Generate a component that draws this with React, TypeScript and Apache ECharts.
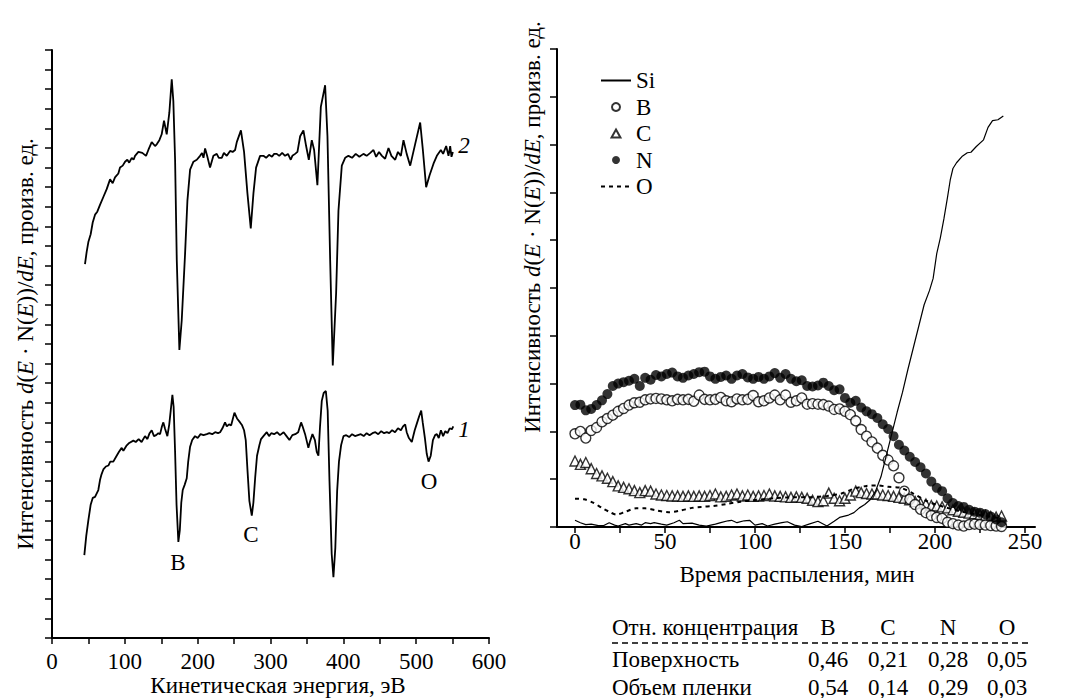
import React, { useEffect, useRef } from "react";
import * as echarts from "echarts";

const FONT = "Liberation Serif";
const FS = 23;

// ---- Left panel: Auger spectra (kinetic energy, eV) ----
const energy2 = [45.3, 47.6, 49.9, 53.1, 55.9, 59.1, 62.2, 65.9, 70.5, 75.1, 79.7, 83.3, 86.5, 91.1, 93.4, 97.1, 100.3, 103.4, 106, 109.5, 112, 114, 118.6, 124, 129.1, 132.3, 136.9, 141.5, 144, 147.4, 150.6, 153.8, 157.5, 161.1, 164.4, 166.6, 169, 171.3, 174.9, 178.1, 182.7, 185.9, 189.6, 194.2, 198.8, 203.3, 206, 208, 210.2, 213, 217, 221.6, 226.2, 229, 233.1, 236, 240, 244.5, 248, 251.4, 253.7, 259.4, 263.7, 268.3, 272.9, 276.6, 280.2, 285.7, 290.3, 294, 298, 302, 305, 308.6, 312, 316, 320, 324, 327.8, 330, 333.8, 337, 340.7, 345.2, 348.9, 352.6, 356.7, 359.9, 364.4, 369.1, 375, 378.2, 381.9, 385.5, 390.1, 393.3, 397.9, 402.5, 407, 412, 417, 422, 427.6, 432, 437, 441.4, 445, 449, 453, 457.4, 462, 466, 471.2, 475, 479, 482.6, 487, 491.8, 498.6, 505.5, 509.2, 513.7, 518.3, 523.8, 528.4, 533.9, 537, 541.2, 544.4, 546.7, 548.5, 550.4];
const spectrum2 = [19.08, 19.7, 20.2, 20.6, 21.2, 21.6, 21.75, 22.1, 22.5, 22.9, 23.4, 23.2, 23.5, 23.7, 24.0, 24.1, 24.3, 24.4, 24.25, 24.5, 24.4, 24.6, 24.8, 24.75, 24.6, 24.9, 25.3, 25.1, 25.2, 25.4, 25.7, 26.4, 25.7, 26.8, 28.5, 27.4, 24.4, 19.3, 14.7, 16.2, 19.6, 22.3, 23.9, 24.3, 24.4, 24.6, 24.75, 24.5, 24.98, 24.6, 24.0, 24.6, 24.7, 24.5, 24.5, 24.75, 24.6, 24.85, 24.8, 24.9, 25.3, 25.9, 24.8, 22.7, 20.9, 22.7, 24.0, 24.6, 24.6, 24.5, 24.65, 24.55, 24.7, 24.7, 24.6, 24.75, 24.6, 24.7, 24.4, 24.6, 24.7, 24.8, 25.6, 25.9, 25.1, 24.4, 25.4, 24.9, 23.1, 27.1, 28.2, 25.6, 19.3, 13.9, 17.6, 21.8, 24.1, 24.5, 24.6, 24.5, 24.7, 24.55, 24.7, 24.6, 24.75, 24.9, 24.55, 24.8, 24.6, 24.45, 25.0, 24.6, 24.4, 24.8, 24.6, 25.4, 24.7, 24.1, 25.2, 26.3, 24.9, 23.0, 23.6, 24.2, 24.6, 24.9, 24.7, 25.1, 24.6, 25.1, 24.55, 24.8];

const energy1 = [44.4, 47, 49.9, 53.1, 56, 59.1, 63.6, 65.9, 68, 70.5, 74, 77.4, 80, 84.2, 88, 92, 95.7, 98, 102, 106, 111.7, 115, 119, 123, 127.7, 131, 134, 136.9, 140, 143, 146, 148.4, 151, 152.9, 155, 158.4, 161, 163, 165.3, 167, 169, 171, 173.5, 175.5, 177.5, 179.5, 182, 185, 187, 189.6, 192.5, 196.4, 200, 204, 208, 212.5, 216, 220, 224, 228, 230.8, 234, 237.6, 240, 243, 246, 250.5, 254, 258.2, 261, 263.7, 266, 268.5, 271, 274.3, 276.5, 279, 281.5, 284.8, 287, 290.3, 294.9, 298, 301, 305, 309, 313, 318, 322, 326, 330, 334, 338, 342, 344, 347.5, 352, 354, 357.6, 361, 363.5, 365.8, 368, 370.4, 373, 376, 378.5, 381, 384, 386.4, 389, 391.5, 394, 397, 400.2, 404, 408, 412, 416, 420, 424, 428, 432, 436, 440, 444, 448, 452, 456, 459.7, 463, 467, 471, 475, 479, 482, 484.9, 487, 490, 494, 498, 501, 504, 506.9, 509, 512, 514.5, 517, 520, 523, 526, 528.4, 531, 534, 537, 540, 543, 546, 549, 551];
const spectrum1 = [4.23, 5.2, 6.0, 6.8, 7.15, 7.2, 7.55, 8.06, 8.35, 8.6, 8.75, 8.8, 9.0, 9.0, 9.25, 9.5, 9.7, 9.55, 9.8, 9.95, 10.07, 10.0, 10.15, 10.0, 10.3, 10.15, 10.45, 10.6, 10.3, 10.35, 10.45, 10.4, 10.8, 11.0, 10.7, 10.3, 10.9, 11.6, 12.4, 11.8, 9.5, 6.8, 4.9, 5.5, 6.9, 7.55, 7.8, 8.15, 9.0, 9.76, 10.1, 10.3, 10.2, 10.4, 10.35, 10.4, 10.45, 10.4, 10.5, 10.45, 10.5, 10.7, 11.0, 10.8, 10.9, 10.85, 11.5, 11.2, 11.0, 10.85, 10.6, 10.1, 8.5, 7.0, 6.24, 6.9, 8.2, 9.3, 9.85, 10.15, 10.3, 10.5, 10.3, 10.45, 10.4, 10.5, 10.35, 10.5, 10.3, 10.1, 10.35, 10.4, 10.5, 11.0, 10.8, 10.4, 9.7, 10.0, 10.4, 10.1, 9.5, 9.3, 10.8, 12.1, 12.5, 12.6, 11.6, 8.0, 4.3, 3.1, 4.6, 7.5, 9.0, 9.85, 10.3, 10.35, 10.25, 10.4, 10.3, 10.35, 10.4, 10.3, 10.45, 10.35, 10.45, 10.5, 10.4, 10.55, 10.45, 10.5, 10.45, 10.6, 10.5, 10.7, 10.6, 10.8, 10.9, 10.5, 10.2, 10.0, 10.6, 10.95, 11.3, 11.6, 11.0, 10.2, 9.4, 9.0, 9.3, 10.1, 10.35, 10.4, 10.2, 10.6, 10.3, 10.55, 10.45, 10.7, 10.65, 10.8];

const leftXTicks = [0, 50, 100, 150, 200, 250, 300, 350, 400, 450, 500, 550, 600];
const leftXLabels = [0, 100, 200, 300, 400, 500, 600];

// ---- Right panel: depth profile (sputtering time, min) ----
const time = [0, 3, 6, 9, 12, 15, 18, 21, 24, 27, 30, 33, 36, 39, 42, 45, 48, 51, 54, 57, 60, 63, 66, 69, 72, 75, 78, 81, 84, 87, 90, 93, 96, 99, 102, 105, 108, 111, 114, 117, 120, 123, 126, 129, 132, 135, 138, 141, 144, 147, 150, 153, 156, 159, 162, 165, 168, 171, 174, 177, 180, 183, 186, 189, 192, 195, 198, 201, 204, 207, 210, 213, 216, 219, 222, 225, 228, 231, 234, 237];
const nitrogen = [2.55, 2.56, 2.44, 2.47, 2.55, 2.65, 2.78, 2.95, 3.0, 3.03, 3.06, 3.1, 2.95, 3.12, 3.08, 3.18, 3.15, 3.2, 3.23, 3.15, 3.12, 3.17, 3.2, 3.24, 3.25, 3.15, 3.1, 3.14, 3.17, 3.1, 3.17, 3.2, 3.13, 3.1, 3.14, 3.1, 3.15, 3.22, 3.12, 3.2, 3.1, 3.05, 3.07, 2.95, 2.94, 2.96, 3.02, 2.95, 2.86, 2.88, 2.7, 2.6, 2.64, 2.5, 2.42, 2.36, 2.28, 2.15, 2.05, 1.9, 1.72, 1.6, 1.47, 1.36, 1.25, 1.12, 0.95, 0.82, 0.75, 0.6, 0.5, 0.44, 0.42, 0.36, 0.32, 0.3, 0.27, 0.22, 0.16, 0.1];
const boron = [1.95, 2.0, 1.86, 2.02, 2.08, 2.2, 2.27, 2.34, 2.42, 2.48, 2.55, 2.6, 2.61, 2.66, 2.68, 2.69, 2.68, 2.66, 2.64, 2.67, 2.66, 2.67, 2.63, 2.76, 2.67, 2.66, 2.67, 2.71, 2.64, 2.62, 2.68, 2.66, 2.67, 2.75, 2.62, 2.64, 2.7, 2.76, 2.66, 2.76, 2.61, 2.64, 2.7, 2.57, 2.58, 2.57, 2.56, 2.53, 2.46, 2.47, 2.42, 2.35, 2.22, 2.04, 1.9, 1.78, 1.65, 1.5, 1.4, 1.28, 1.03, 0.75, 0.58, 0.47, 0.37, 0.3, 0.24, 0.2, 0.18, 0.1, 0.07, 0.04, 0.02, 0.05, 0.06, 0.05, 0.04, 0.03, 0.02, 0.01];
const carbon = [1.38, 1.31, 1.35, 1.22, 1.12, 1.07, 1.02, 0.95, 0.86, 0.83, 0.8, 0.76, 0.72, 0.76, 0.75, 0.69, 0.67, 0.66, 0.65, 0.65, 0.64, 0.65, 0.64, 0.65, 0.64, 0.66, 0.69, 0.63, 0.64, 0.67, 0.69, 0.65, 0.67, 0.64, 0.65, 0.66, 0.69, 0.65, 0.64, 0.63, 0.62, 0.63, 0.62, 0.6, 0.56, 0.53, 0.55, 0.71, 0.6, 0.55, 0.6, 0.67, 0.75, 0.72, 0.7, 0.69, 0.69, 0.67, 0.66, 0.64, 0.62, 0.6, 0.57, 0.53, 0.5, 0.48, 0.45, 0.44, 0.42, 0.4, 0.36, 0.33, 0.31, 0.29, 0.28, 0.26, 0.24, 0.22, 0.21, 0.23];

const siTime = [0, 3, 6, 9, 13, 16, 19, 22, 24, 28, 30, 34, 37, 39, 42, 44, 48, 51, 55, 58, 60, 65, 69, 73, 78, 81, 85, 87, 90, 94, 97, 100, 104, 107, 111, 115, 118, 122, 126, 130, 135, 140, 144, 147, 152, 155, 158, 161, 164, 167, 170, 173, 176, 179, 182, 185, 188, 191, 194, 197, 199, 201, 203, 205, 207, 208.5, 210, 212, 215, 218, 220, 223, 227, 229.5, 232, 235, 238];
const silicon = [0.14, 0.09, 0.05, 0.06, 0.03, 0.03, 0.09, 0.04, 0.02, 0.07, 0.04, 0.07, 0.04, 0.09, 0.07, 0.09, 0.06, 0.04, 0.09, 0.14, 0.07, 0.08, 0.04, 0.02, 0.06, 0.09, 0.13, 0.14, 0.09, 0.13, 0.14, 0.04, 0.07, 0.02, 0.06, 0.09, 0.11, 0.04, 0.01, 0.06, 0.12, 0.02, 0.12, 0.2, 0.25, 0.3, 0.4, 0.47, 0.57, 0.75, 1.05, 1.5, 1.95, 2.4, 2.82, 3.3, 3.75, 4.2, 4.65, 4.95, 5.2, 5.72, 6.05, 6.45, 6.9, 7.26, 7.5, 7.62, 7.75, 7.83, 7.84, 7.96, 8.1, 8.36, 8.5, 8.52, 8.6];

const oTime = [0, 5, 10, 15, 20, 23, 28, 34, 39, 45, 52, 58, 65, 70, 77, 84, 92, 99, 110, 120, 130, 140, 148, 155, 162, 168, 174, 181, 188, 195, 205, 215, 225, 237];
const oxygen = [0.59, 0.58, 0.51, 0.4, 0.3, 0.26, 0.32, 0.39, 0.39, 0.35, 0.31, 0.34, 0.4, 0.42, 0.44, 0.48, 0.53, 0.56, 0.6, 0.62, 0.62, 0.65, 0.7, 0.8, 0.86, 0.87, 0.84, 0.82, 0.7, 0.55, 0.42, 0.32, 0.25, 0.18];

const rightXTicks = [0, 25, 50, 75, 100, 125, 150, 175, 200, 225, 250];
const rightXLabels = [0, 50, 100, 150, 200, 250];

// ---- Table ----
const tableHeader = "Отн. концентрация";
const tableElements = ["B", "C", "N", "O"];
const tableRows = ["Поверхность", "Объем пленки"];
const surfaceConc = ["0,46", "0,21", "0,28", "0,05"];
const bulkConc = ["0,54", "0,14", "0,29", "0,03"];

const Y_TITLE = "{r|Интенсивность }{i|d}{r|(}{i|E}{r| · N(}{i|E}{r|))/}{i|dE}{r|, произв. ед.}";

function txt(x: number, y: number, text: string, extra: any = {}) {
  return {
    type: "text",
    x,
    y,
    silent: true,
    style: {
      text,
      fill: "#000",
      fontFamily: FONT,
      fontSize: FS,
      align: "center",
      verticalAlign: "middle",
      ...extra,
    },
  };
}

const richTitle = {
  r: { fontFamily: FONT, fontSize: FS, fill: "#000", color: "#000" },
  i: { fontFamily: FONT, fontSize: FS, fontStyle: "italic", fill: "#000", color: "#000" },
};

export default function App() {
  const ref = useRef<HTMLDivElement>(null);

  useEffect(() => {
    if (!ref.current) return;
    const chart = echarts.init(ref.current, undefined, { renderer: "svg" });

    const axisLineStyle = { show: true, onZero: false, lineStyle: { color: "#000", width: 2 } };
    const tickStyle = { show: true, inside: false, length: 6, lineStyle: { color: "#000", width: 1.5 } };
    const labelStyle = { color: "#000", fontFamily: FONT, fontSize: FS };

    const colX = [828, 888, 948, 1007];
    const graphics: any[] = [
      {
        ...txt(25, 344, Y_TITLE, { rich: richTitle }),
        rotation: Math.PI / 2,
      },
      {
        ...txt(532, 227, Y_TITLE, { rich: richTitle }),
        rotation: Math.PI / 2,
      },
      txt(278, 685, "Кинетическая энергия, эВ"),
      txt(797, 574, "Время распыления, мин"),
      txt(178, 562, "B"),
      txt(251, 534, "C"),
      txt(429, 481, "O"),
      txt(464, 145, "2", { fontStyle: "italic" }),
      txt(464, 429, "1", { fontStyle: "italic" }),
      txt(612, 627, tableHeader, { align: "left" }),
      txt(612, 659, tableRows[0], { align: "left" }),
      txt(612, 687, tableRows[1], { align: "left" }),
      {
        type: "line",
        silent: true,
        shape: { x1: 612, y1: 643, x2: 1028, y2: 643 },
        style: { stroke: "#000", lineWidth: 1.5, lineDash: [6, 4] },
      },
    ];
    tableElements.forEach((el, i) => graphics.push(txt(colX[i], 627, el)));
    surfaceConc.forEach((v, i) => graphics.push(txt(colX[i], 659, v)));
    bulkConc.forEach((v, i) => graphics.push(txt(colX[i], 687, v)));

    chart.setOption({
      animation: false,
      backgroundColor: "#fff",
      textStyle: { fontFamily: FONT, fontSize: FS, color: "#000" },
      grid: [
        { left: 52, top: 50, width: 437, height: 588 },
        { left: 557, top: 49, width: 478, height: 478 },
      ],
      xAxis: [
        {
          type: "value",
          gridIndex: 0,
          min: 0,
          max: 600,
          axisLine: axisLineStyle,
          splitLine: { show: false },
          axisTick: { ...tickStyle, customValues: leftXTicks },
          axisLabel: { ...labelStyle, margin: 12, customValues: leftXLabels },
        },
        {
          type: "value",
          gridIndex: 1,
          min: -10,
          max: 255.6,
          axisLine: axisLineStyle,
          splitLine: { show: false },
          axisTick: { ...tickStyle, customValues: rightXTicks },
          axisLabel: { ...labelStyle, margin: 3, customValues: rightXLabels },
        },
      ],
      yAxis: [
        {
          type: "value",
          gridIndex: 0,
          min: 0,
          max: 30,
          interval: 1,
          axisLine: axisLineStyle,
          splitLine: { show: false },
          axisTick: { ...tickStyle, length: 7 },
          axisLabel: { show: false },
        },
        {
          type: "value",
          gridIndex: 1,
          min: 0,
          max: 10,
          interval: 1,
          axisLine: axisLineStyle,
          splitLine: { show: false },
          axisTick: { ...tickStyle, length: 7 },
          axisLabel: { show: false },
        },
      ],
      legend: {
        orient: "vertical",
        left: 595,
        top: 64,
        itemWidth: 30,
        itemHeight: 8,
        itemGap: 3.5,
        symbolKeepAspect: true,
        data: [
          { name: "Si", itemStyle: { opacity: 0 } },
          { name: "B" },
          { name: "C", icon: "path://M5,0 L10,9 L0,9 Z" },
          { name: "N" },
          { name: "O", itemStyle: { opacity: 0 } },
        ],
        textStyle: { fontFamily: FONT, fontSize: FS, color: "#000", lineHeight: 23 },
      },
      series: [
        {
          name: "spectrum 2",
          type: "line",
          xAxisIndex: 0,
          yAxisIndex: 0,
          symbol: "none",
          lineStyle: { color: "#000", width: 1.8 },
          data: energy2.map((e, i) => [e, spectrum2[i]]),
        },
        {
          name: "spectrum 1",
          type: "line",
          xAxisIndex: 0,
          yAxisIndex: 0,
          symbol: "none",
          lineStyle: { color: "#000", width: 1.8 },
          data: energy1.map((e, i) => [e, spectrum1[i]]),
        },
        {
          name: "O",
          type: "line",
          xAxisIndex: 1,
          yAxisIndex: 1,
          symbol: "none",
          smooth: 0.3,
          itemStyle: { color: "#000" },
          lineStyle: { color: "#000", width: 2, type: [4, 4] },
          data: oTime.map((t, i) => [t, oxygen[i]]),
        },
        {
          name: "C",
          type: "scatter",
          xAxisIndex: 1,
          yAxisIndex: 1,
          symbol: "triangle",
          symbolSize: 10,
          itemStyle: { color: "#fff", borderColor: "#000", borderWidth: 1.4 },
          data: time.map((t, i) => [t, carbon[i]]),
        },
        {
          name: "B",
          type: "scatter",
          xAxisIndex: 1,
          yAxisIndex: 1,
          symbol: "circle",
          symbolSize: 10,
          itemStyle: { color: "#fff", borderColor: "#000", borderWidth: 1.4 },
          data: time.map((t, i) => [t, boron[i]]),
        },
        {
          name: "N",
          type: "scatter",
          xAxisIndex: 1,
          yAxisIndex: 1,
          symbol: "circle",
          symbolSize: 10,
          itemStyle: { color: "#000" },
          data: time.map((t, i) => [t, nitrogen[i]]),
        },
        {
          name: "Si",
          type: "line",
          xAxisIndex: 1,
          yAxisIndex: 1,
          symbol: "none",
          itemStyle: { color: "#000" },
          lineStyle: { color: "#000", width: 1.2 },
          data: siTime.map((t, i) => [t, silicon[i]]),
        },
      ],
      graphic: graphics,
    });

    return () => chart.dispose();
  }, []);

  return (
    <div
      ref={ref}
      style={{ position: "fixed", left: 0, top: 0, width: 1069, height: 698, background: "#fff" }}
    />
  );
}
